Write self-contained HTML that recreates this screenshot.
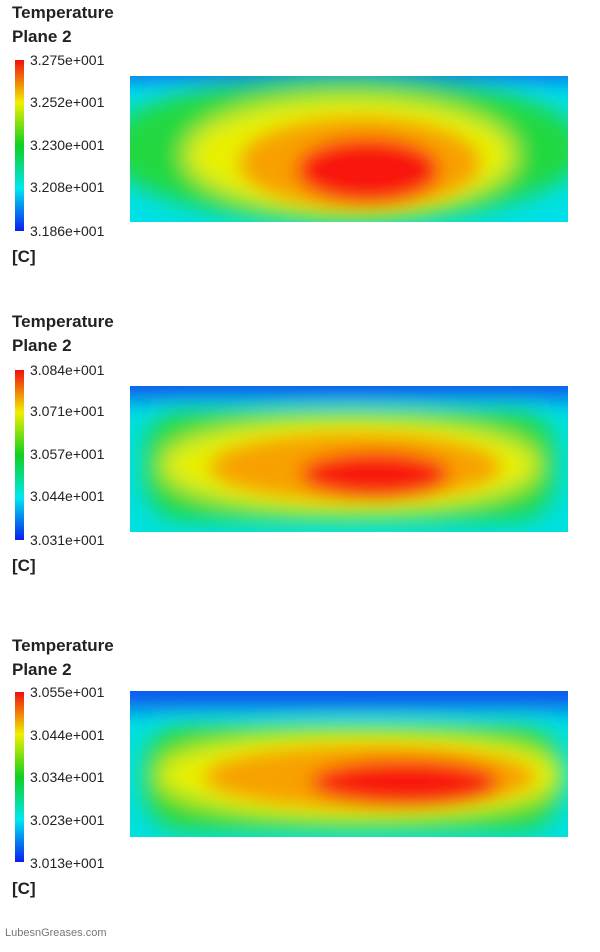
<!DOCTYPE html>
<html><head><meta charset="utf-8"><style>
body{margin:0;background:#fff;width:600px;height:947px;overflow:hidden;font-family:"Liberation Sans Narrow","Liberation Sans",sans-serif}
</style></head><body>
<svg width="600" height="947" xmlns="http://www.w3.org/2000/svg">
<defs>
<linearGradient id="lg" x1="0" y1="1" x2="0" y2="0">
<stop offset="0" stop-color="#0a1ef0"/><stop offset="0.25" stop-color="#00e8f0"/><stop offset="0.5" stop-color="#10d020"/><stop offset="0.75" stop-color="#f0f000"/><stop offset="1" stop-color="#f01010"/>
</linearGradient>
<filter id="b1" x="-50%" y="-50%" width="200%" height="200%"><feGaussianBlur stdDeviation="12"/></filter>
<filter id="b2" x="-50%" y="-50%" width="200%" height="200%"><feGaussianBlur stdDeviation="9"/></filter>
<clipPath id="c1"><rect x="130" y="76" width="438" height="146"/></clipPath>
<clipPath id="c2"><rect x="130" y="386" width="438" height="146"/></clipPath>
<clipPath id="c3"><rect x="130" y="691" width="438" height="146"/></clipPath>
</defs>
<g font-size="14" fill="#222">
<text x="12" y="18" font-size="17" font-weight="bold">Temperature</text>
<text x="12" y="42" font-size="17" font-weight="bold">Plane 2</text>
<rect x="15" y="60" width="9" height="171" fill="url(#lg)"/>
<text x="30" y="65">3.275e+001</text><text x="30" y="107">3.252e+001</text><text x="30" y="150">3.230e+001</text><text x="30" y="192">3.208e+001</text><text x="30" y="236">3.186e+001</text>
<text x="12" y="262" font-size="17" font-weight="bold">[C]</text>
<text x="12" y="327" font-size="17" font-weight="bold">Temperature</text>
<text x="12" y="351" font-size="17" font-weight="bold">Plane 2</text>
<rect x="15" y="370" width="9" height="170" fill="url(#lg)"/>
<text x="30" y="375">3.084e+001</text><text x="30" y="416">3.071e+001</text><text x="30" y="459">3.057e+001</text><text x="30" y="501">3.044e+001</text><text x="30" y="545">3.031e+001</text>
<text x="12" y="571" font-size="17" font-weight="bold">[C]</text>
<text x="12" y="651" font-size="17" font-weight="bold">Temperature</text>
<text x="12" y="675" font-size="17" font-weight="bold">Plane 2</text>
<rect x="15" y="692" width="9" height="170" fill="url(#lg)"/>
<text x="30" y="697">3.055e+001</text><text x="30" y="740">3.044e+001</text><text x="30" y="782">3.034e+001</text><text x="30" y="825">3.023e+001</text><text x="30" y="868">3.013e+001</text>
<text x="12" y="894" font-size="17" font-weight="bold">[C]</text>
<text x="5" y="936" font-size="11" fill="#777">LubesnGreases.com</text>
</g>
<g clip-path="url(#c1)">
<rect x="130" y="76" width="438" height="146" fill="#00e0e8"/>
<g filter="url(#b1)">
<rect x="90" y="50" width="520" height="30" fill="#1060f0"/>
<ellipse cx="345" cy="148" rx="240" ry="75" fill="#20d840"/>
<ellipse cx="350" cy="155" rx="165" ry="58" fill="#e8f000"/>
</g>
<g filter="url(#b2)">
<ellipse cx="360" cy="163" rx="120" ry="45" fill="#f8a000"/>
<ellipse cx="368" cy="170" rx="72" ry="32" fill="#f81810"/>
</g>
</g>
<g clip-path="url(#c2)">
<rect x="130" y="386" width="438" height="146" fill="#00e0e0"/>
<g filter="url(#b1)">
<rect x="90" y="360" width="520" height="38" fill="#1050f0"/>
<rect x="145" y="410" width="410" height="110" rx="40" fill="#20d840"/>
<ellipse cx="350" cy="465" rx="190" ry="47" fill="#e8f000"/>
</g>
<g filter="url(#b2)">
<ellipse cx="355" cy="467" rx="145" ry="33" fill="#f8a000"/>
<ellipse cx="375" cy="474" rx="75" ry="22" fill="#f81810"/>
</g>
</g>
<g clip-path="url(#c3)">
<rect x="130" y="691" width="438" height="146" fill="#00e0e0"/>
<g filter="url(#b1)">
<rect x="90" y="670" width="520" height="38" fill="#1050f0"/>
<rect x="145" y="726" width="415" height="104" rx="40" fill="#30d830"/>
<ellipse cx="360" cy="775" rx="205" ry="44" fill="#e8f000"/>
</g>
<g filter="url(#b2)">
<ellipse cx="370" cy="777" rx="165" ry="31" fill="#f8a000"/>
<ellipse cx="405" cy="782" rx="95" ry="22" fill="#f81810"/>
</g>
</g>
</svg>
</body></html>
